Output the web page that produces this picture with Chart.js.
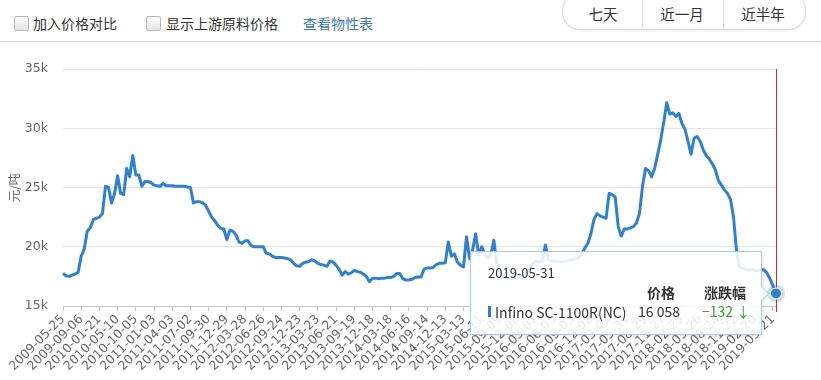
<!DOCTYPE html>
<html><head><meta charset="utf-8">
<script src="https://cdn.jsdelivr.net/npm/chart.js@4.4.1/dist/chart.umd.min.js"></script>
<style>
html,body{margin:0;padding:0;background:#fff;width:821px;height:380px;overflow:hidden;font-family:"Noto Sans CJK SC","Noto Sans",sans-serif;}
#wrap{position:relative;width:821px;height:380px;}
.hline{position:absolute;left:0;top:41px;width:821px;height:1px;background:#dcdcdc;}
.cb{position:absolute;top:16px;width:13px;height:13px;border:1px solid #b8b8b8;border-radius:2px;background:linear-gradient(#fefefe,#e4e4e4);}
.lbl{position:absolute;top:12px;font-size:14px;color:#333;line-height:22px;white-space:nowrap;}
.link{color:#3c7aa8;}
.pill{position:absolute;left:562px;top:-8px;width:242px;height:36px;border:1px solid #dadada;border-radius:18px;box-shadow:0 1px 2px rgba(0,0,0,0.08);background:#fff;}
.div{position:absolute;top:0;width:1px;height:28px;background:#e2e2e2;}
.btn{position:absolute;top:4px;font-size:14.5px;color:#333;line-height:20px;transform:translateX(-50%);white-space:nowrap;}
#cv{position:absolute;left:0;top:45px;}
#tip{position:absolute;width:292px;height:84px;border:1px solid rgba(47,128,209,0.4);background:rgba(255,255,255,0.86);box-shadow:1px 1px 3px rgba(0,0,0,0.12);box-sizing:border-box;font-family:"Noto Sans CJK SC","Noto Sans",sans-serif;color:#333;}
#tip span{position:absolute;white-space:nowrap;line-height:18px;}
#arrow{position:absolute;width:10px;height:10px;background:rgba(255,255,255,0.95);border-right:1px solid rgba(47,128,209,0.4);border-top:1px solid rgba(47,128,209,0.4);transform:rotate(45deg);}
</style></head>
<body>
<div id="wrap">
  <div class="cb" style="left:14px"></div><div class="lbl" style="left:33px">加入价格对比</div>
  <div class="cb" style="left:146px"></div><div class="lbl" style="left:166px">显示上游原料价格</div>
  <div class="lbl link" style="left:303px">查看物性表</div>
  <div class="pill"></div>
  <div class="div" style="left:642px"></div><div class="div" style="left:723px"></div>
  <div class="btn" style="left:603px">七天</div>
  <div class="btn" style="left:682px">近一月</div>
  <div class="btn" style="left:763px">近半年</div>
  <div class="hline"></div>
  <canvas id="cv" width="821" height="335"></canvas>
  <div id="tip">
    <span id="tDate" style="left:17px;top:12px;font-size:13px;"></span>
    <span id="hPrice" style="left:176px;top:31px;font-size:14px;font-weight:bold;"></span>
    <span id="hChg" style="left:233px;top:31px;font-size:14px;font-weight:bold;"></span>
    <span style="left:17px;top:54px;width:3px;height:11px;background:#2f80d1;"></span>
    <span id="tName" style="left:24px;top:51px;font-size:14px;"></span>
    <span id="tVal" style="left:167px;top:50px;font-size:14px;"></span>
    <span id="tChg" style="left:231px;top:50px;font-size:14px;color:#3e9a3e;"></span>
  </div>
  <div id="arrow"></div>
</div>
<script>
const tickLabels = ['2009-05-25','2009-09-06','2010-01-21','2010-05-10','2010-10-05','2011-01-03','2011-04-03','2011-07-02','2011-09-30','2011-12-29',
  '2012-03-28','2012-06-26','2012-09-24','2012-12-23','2013-03-23','2013-06-21','2013-09-19','2013-12-18','2014-03-18','2014-06-16',
  '2014-09-14','2014-12-13','2015-03-13','2015-06-11','2015-09-09','2015-12-08','2016-03-07','2016-06-05','2016-09-03','2016-12-02',
  '2017-03-02','2017-05-31','2017-08-29','2017-11-27','2018-02-25','2018-05-26','2018-08-24','2018-11-22','2019-02-20','2019-05-21'];
const lastDate = '2019-05-31';
const seriesName = 'Infino SC-1100R(NC)';
const lastChange = -132;
const prices = [
 17760,17550,17500,17600,17700,17850,19200,19800,21300,21600,22300,22400,
 22500,22800,25100,25000,23700,24500,26000,24500,24400,26600,25900,27700,
 26050,26050,25100,25500,25500,25400,25200,25150,25100,25350,25150,25150,
 25150,25100,25100,25100,25100,25050,25000,23700,23800,23800,23700,23500,
 23000,22500,22200,21800,21550,21500,20600,21400,21300,21000,20400,20300,
 20500,20500,20100,20000,20000,20000,20000,19450,19400,19200,19100,19100,
 19100,19050,19000,18900,18600,18400,18350,18600,18700,18750,18900,18800,
 18600,18500,18450,18350,18800,18700,18450,18100,17600,17900,17700,17800,
 18000,17900,17850,17700,17500,17050,17350,17350,17300,17350,17350,17400,
 17400,17500,17750,17750,17300,17200,17200,17250,17400,17450,17450,18100,
 18200,18200,18250,18500,18600,18600,18650,20400,19200,19400,18700,18450,
 18300,20850,19000,19700,21100,19300,20000,19400,19000,19300,20550,18500,
 17800,17500,17400,17300,17300,17350,17400,17500,17600,17900,18300,18600,
 18800,18700,18800,20150,18900,18800,18800,18750,18700,18750,18800,18850,
 18900,19000,19100,19400,19900,20300,21100,22300,22800,22600,22500,22400,
 24500,24400,24200,21700,20900,21500,21500,21600,21700,22000,22800,25100,
 26600,26400,25900,26600,27800,29000,30500,32150,31200,31300,31000,31250,
 30400,29900,28900,27800,29150,29300,28900,28200,27700,27400,27000,26500,
 25600,25200,24800,24500,24000,22500,19600,18300,18200,18100,18000,18100,
 18000,18000,18050,18050,17800,17300,16700,16058];
const yMin = 15000, yMax = 35000, yStep = 5000;
const yTitle = '元/吨';
const tipHeads = ['价格','涨跌幅'];

// categories: tick dates with sub-steps between them (dates only)
const SUB = 6;
const categories = [];
for (let k = 0; k < tickLabels.length - 1; k++) {
  const a = Date.parse(tickLabels[k] + 'T00:00:00Z'), b = Date.parse(tickLabels[k + 1] + 'T00:00:00Z');
  for (let j = 0; j < SUB; j++) categories.push(j === 0 ? tickLabels[k] : new Date(a + (b - a) * j / SUB).toISOString().slice(0, 10));
}
categories.push(tickLabels[tickLabels.length - 1]);
categories.push(lastDate);
const tickSet = new Set(tickLabels);
const LINE = '#2f80d1';
const lastIdx = prices.length - 1;

const markerPlugin = {
  id: 'marker',
  beforeDatasetsDraw(chart) {
    const p = chart.getDatasetMeta(0).data[lastIdx];
    const ctx = chart.ctx, a = chart.chartArea;
    ctx.save();
    ctx.strokeStyle = '#e0202a'; ctx.lineWidth = 1;
    ctx.beginPath(); ctx.moveTo(Math.round(p.x) + 0.5, a.top); ctx.lineTo(Math.round(p.x) + 0.5, a.bottom + 6); ctx.stroke();
    ctx.restore();
  },
  afterDatasetsDraw(chart) {
    const p = chart.getDatasetMeta(0).data[lastIdx];
    const ctx = chart.ctx;
    ctx.save();
    ctx.fillStyle = 'rgba(47,128,209,0.25)'; ctx.beginPath(); ctx.arc(p.x, p.y, 9, 0, Math.PI * 2); ctx.fill();
    ctx.fillStyle = '#fff'; ctx.beginPath(); ctx.arc(p.x, p.y, 6, 0, Math.PI * 2); ctx.fill();
    ctx.fillStyle = LINE; ctx.beginPath(); ctx.arc(p.x, p.y, 5, 0, Math.PI * 2); ctx.fill();
    ctx.restore();
  }
};

const chart = new Chart(document.getElementById('cv'), {
  type: 'line',
  data: { labels: categories, datasets: [{ label: seriesName, data: prices, borderColor: LINE, borderWidth: 3, pointRadius: 0, tension: 0, borderJoinStyle: 'round', fill: false }] },
  options: {
    responsive: false, animation: false, devicePixelRatio: 1,
    layout: { padding: { top: 24, right: 45, left: 0, bottom: 0 } },
    plugins: { legend: { display: false }, tooltip: { enabled: false } },
    scales: {
      x: {
        type: 'category', offset: false,
        afterBuildTicks: (axis) => { axis.ticks = axis.ticks.filter(t => tickSet.has(categories[t.value])); },
        afterFit: (s) => { s.height = 74; },
        grid: { drawOnChartArea: false, drawTicks: true, tickLength: 5, color: '#c8c8c8' },
        border: { display: true, color: '#c8c8c8' },
        ticks: { autoSkip: false, minRotation: 45, maxRotation: 45, padding: 1, color: '#6a6a6a', font: { family: 'DejaVu Sans', size: 12.5 } }
      },
      y: {
        min: yMin, max: yMax,
        afterFit: (s) => { s.width = 63; },
        grid: { color: '#e3e3e3', drawTicks: false },
        border: { display: false },
        title: { display: true, text: yTitle, color: '#666', font: { family: 'Noto Sans CJK SC', size: 12 }, padding: { top: 7, bottom: 4 } },
        ticks: { stepSize: yStep, padding: 15, color: '#666', font: { family: 'DejaVu Sans', size: 12.5 }, callback: v => (v / 1000) + 'k' }
      }
    }
  },
  plugins: [markerPlugin]
});

// tooltip box anchored at the last point
const p = chart.getDatasetMeta(0).data[lastIdx];
const px = p.x, py = p.y + 45;
const tip = document.getElementById('tip');
tip.style.left = (px - 14 - 292) + 'px';
tip.style.top = (py - 42) + 'px';
document.getElementById('tDate').textContent = lastDate;
document.getElementById('hPrice').textContent = tipHeads[0];
document.getElementById('hChg').textContent = tipHeads[1];
document.getElementById('tName').textContent = seriesName;
document.getElementById('tVal').textContent = prices[lastIdx].toLocaleString('fr-FR').replace(/\u202f|\u00a0/g, ' ');
document.getElementById('tChg').textContent = String(lastChange).replace('-', '−') + ' ↓';
const ar = document.getElementById('arrow');
ar.style.left = (px - 14 - 6) + 'px';
ar.style.top = (py - 5) + 'px';
</script>
</body></html>
